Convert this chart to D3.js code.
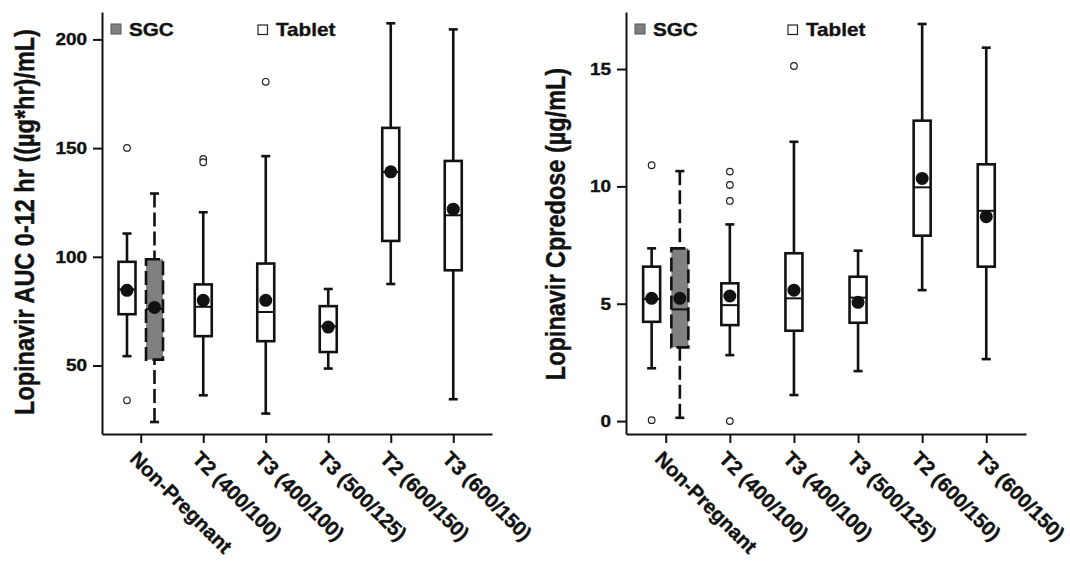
<!DOCTYPE html>
<html>
<head>
<meta charset="utf-8">
<script src="https://cdn.jsdelivr.net/npm/d3@7"></script>
<style>
body { margin: 0; background: #fff; }
text { font-family: Arial, "Liberation Sans", sans-serif; font-weight: bold; fill: #111; stroke: #111; stroke-width: 0.35px; }
</style>
</head>
<body>
<svg id="chart" width="1070" height="567"></svg>
<script>
// categories on the x axis
const categories = ["Non-Pregnant", "T2 (400/100)", "T3 (400/100)", "T3 (500/125)", "T2 (600/150)", "T3 (600/150)"]

// one entry per box
const boxCat = ["Non-Pregnant", "Non-Pregnant", "T2 (400/100)", "T3 (400/100)", "T3 (500/125)", "T2 (600/150)", "T3 (600/150)"]
const boxForm = ["Tablet", "SGC", "Tablet", "Tablet", "Tablet", "Tablet", "Tablet"]

// AUC 0-12 hr
const aucLow  = [54.3, 24.0, 36.3, 27.9, 48.6, 87.5, 34.5]
const aucQ1   = [73.6, 52.7, 63.5, 61.2, 56.2, 107.3, 93.8]
const aucMed  = [85, 76, 77, 74.6, 68, 139, 119.1]
const aucQ3   = [97.7, 98.9, 87.3, 96.9, 77.3, 159.3, 144.1]
const aucHigh = [110.7, 129.1, 120.5, 146.3, 85.2, 207.4, 204.6]
const aucMean = [84.6, 76.7, 80, 80, 67.7, 139.1, 121.9]
const aucOut  = [[150.1, 34], [], [145, 143.5], [180.5], [], [], []]
const aucTicks = [50, 100, 150, 200]

// Cpredose
const cLow  = [2.25, 0.14, 2.81, 1.11, 2.13, 5.58, 2.64]
const cQ1   = [4.23, 3.14, 4.09, 3.85, 4.19, 7.9, 6.58]
const cMed  = [5.2, 4.76, 4.94, 5.23, 5.26, 9.96, 8.96]
const cQ3   = [6.58, 7.36, 5.87, 7.15, 6.15, 12.8, 10.94]
const cHigh = [7.36, 10.65, 8.38, 11.9, 7.26, 16.92, 15.91]
const cMean = [5.23, 5.23, 5.33, 5.58, 5.06, 10.34, 8.71]
const cOut  = [[10.9, 0.04], [], [10.63, 10.06, 9.38, 0.0], [15.13], [], [], []]
const cTicks = [0, 5, 10, 15]

let svg = d3.select("#chart")

const drawPanel = (p) => {
    let x = d3.scalePoint().domain(categories).range([p.left, p.right]).padding(0.62)
    let y = d3.scaleLinear().domain(p.domain).range([p.bottom, p.top])
    let step = x.step()

    const bx = (i) => {
        let n = boxCat.filter(c => c === boxCat[i]).length
        if (n === 1) return x(boxCat[i])
        return x(boxCat[i]) + (boxForm[i] === "Tablet" ? -1 : 1) * 0.22 * step
    }

    // axes
    let xa = svg.append("g")
        .attr("transform", "translate(0," + p.bottom + ")")
        .call(d3.axisBottom(x).tickSize(9).tickSizeOuter(0).tickFormat(""))
    xa.selectAll("path, line").attr("stroke", "#111").attr("stroke-width", 2)

    let ya = svg.append("g")
        .attr("transform", "translate(" + p.left + ",0)")
        .call(d3.axisLeft(y).tickValues(p.ticks).tickSize(9).tickPadding(4).tickSizeOuter(0))
    ya.selectAll("path, line").attr("stroke", "#111").attr("stroke-width", 2)
    ya.selectAll("text")
        .attr("font-size", "16.5px")
        .attr("fill", "#111")
        .attr("font-family", null)
        .attr("transform", "scale(1.15,1)")

    // x labels
    svg.append("g").selectAll("text")
        .data(categories)
        .join("text")
        .attr("transform", d => "translate(" + (x(d) - 12) + "," + (p.bottom + 26) + ") rotate(45)")
        .attr("font-size", "20.3px")
        .text(d => d)

    // y title
    svg.append("text")
        .attr("transform", "translate(" + p.titleX + "," + p.titleY + ") scale(1.17,1) rotate(-90)")
        .attr("text-anchor", "middle")
        .attr("font-size", "23.5px")
        .text(p.title)

    // legend
    svg.append("rect")
        .attr("x", p.left + 9).attr("y", 24).attr("width", 10).attr("height", 10)
        .attr("fill", "#808080").attr("stroke", "#555").attr("stroke-width", 1)
    svg.append("text")
        .attr("transform", "translate(" + (p.left + 27) + ",36) scale(1.15,1)")
        .attr("font-size", "18px")
        .text("SGC")
    svg.append("rect")
        .attr("x", p.tabletX).attr("y", 25).attr("width", 9.5).attr("height", 9.5)
        .attr("fill", "#fff").attr("stroke", "#222").attr("stroke-width", 1.2)
    svg.append("text")
        .attr("transform", "translate(" + (p.tabletX + 18) + ",36) scale(1.15,1)")
        .attr("font-size", "18px")
        .text("Tablet")

    let idx = d3.range(boxCat.length)
    let dash = (i) => boxForm[i] === "SGC" ? "14,5" : null
    let g = svg.append("g")

    // whiskers
    g.selectAll(".wlow").data(idx).join("line")
        .attr("x1", i => bx(i)).attr("x2", i => bx(i))
        .attr("y1", i => y(p.low[i])).attr("y2", i => y(p.q1[i]))
        .attr("stroke", "#111").attr("stroke-width", 2.6)
        .attr("stroke-dasharray", dash)
    g.selectAll(".whigh").data(idx).join("line")
        .attr("x1", i => bx(i)).attr("x2", i => bx(i))
        .attr("y1", i => y(p.high[i])).attr("y2", i => y(p.q3[i]))
        .attr("stroke", "#111").attr("stroke-width", 2.6)
        .attr("stroke-dasharray", dash)

    // caps
    let caps = idx.flatMap(i => [[i, p.low[i]], [i, p.high[i]]])
    g.selectAll(".cap").data(caps).join("line")
        .attr("x1", d => bx(d[0]) - 4.5).attr("x2", d => bx(d[0]) + 4.5)
        .attr("y1", d => y(d[1])).attr("y2", d => y(d[1]))
        .attr("stroke", "#111").attr("stroke-width", 2.6)

    // boxes
    g.selectAll(".box").data(idx).join("rect")
        .attr("x", i => bx(i) - 8.5).attr("width", 17)
        .attr("y", i => y(p.q3[i]))
        .attr("height", i => y(p.q1[i]) - y(p.q3[i]))
        .attr("fill", i => boxForm[i] === "SGC" ? "#808080" : "#fff")
        .attr("stroke", "#111").attr("stroke-width", 2.6)
        .attr("stroke-dasharray", dash)

    // medians
    g.selectAll(".med").data(idx).join("line")
        .attr("x1", i => bx(i) - 8.5).attr("x2", i => bx(i) + 8.5)
        .attr("y1", i => y(p.med[i])).attr("y2", i => y(p.med[i]))
        .attr("stroke", "#111").attr("stroke-width", 2)

    // means
    g.selectAll(".mean").data(idx).join("circle")
        .attr("cx", i => bx(i)).attr("cy", i => y(p.mean[i]))
        .attr("r", 6.5).attr("fill", "#111")

    // outliers
    let outs = idx.flatMap(i => p.out[i].map(v => [i, v]))
    g.selectAll(".out").data(outs).join("circle")
        .attr("cx", d => bx(d[0])).attr("cy", d => y(d[1]))
        .attr("r", 3.3).attr("fill", "#fff")
        .attr("stroke", "#222").attr("stroke-width", 1.2)
}

drawPanel({
    left: 102, right: 492, top: 12, bottom: 434,
    domain: [18.5, 212.6], ticks: aucTicks,
    title: "Lopinavir AUC 0-12 hr ((\u00b5g*hr)/mL)", titleX: 34, titleY: 222,
    tabletX: 258,
    low: aucLow, q1: aucQ1, med: aucMed, q3: aucQ3, high: aucHigh, mean: aucMean, out: aucOut
})

drawPanel({
    left: 626, right: 1026, top: 12, bottom: 434,
    domain: [-0.55, 17.43], ticks: cTicks,
    title: "Lopinavir Cpredose (\u00b5g/mL)", titleX: 564.5, titleY: 224,
    tabletX: 788,
    low: cLow, q1: cQ1, med: cMed, q3: cQ3, high: cHigh, mean: cMean, out: cOut
})
</script>
</body>
</html>
